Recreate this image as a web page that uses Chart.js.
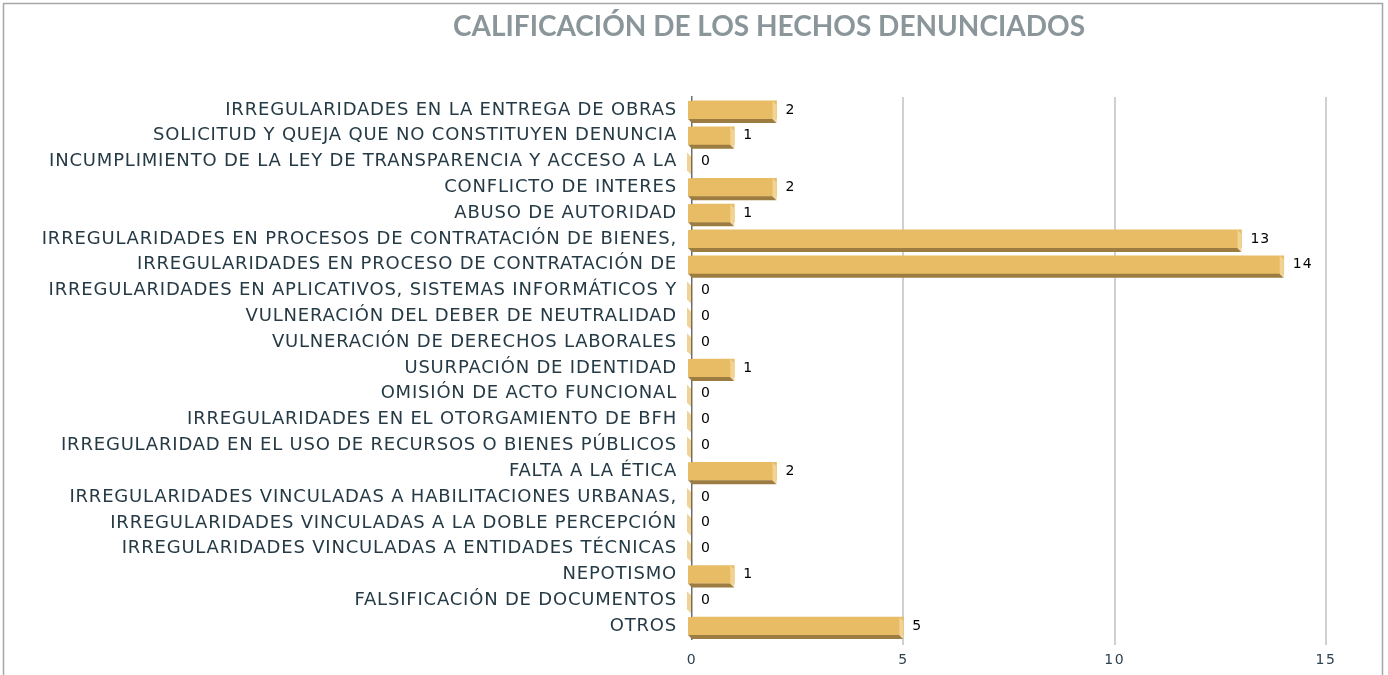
<!DOCTYPE html>
<html>
<head>
<meta charset="utf-8">
<script src="https://cdn.jsdelivr.net/npm/chart.js@4/dist/chart.umd.min.js"></script>
<style>
  html, body { margin: 0; padding: 0; background: #fff; }
  #wrap { width: 1388px; height: 675px; }
</style>
</head>
<body>
<div id="wrap"><canvas id="hechosChart" width="1388" height="675"></canvas></div>
<script>
const titulo = 'CALIFICACIÓN DE LOS HECHOS DENUNCIADOS';

const categorias = [
  'IRREGULARIDADES EN LA ENTREGA DE OBRAS',
  'SOLICITUD Y QUEJA QUE NO CONSTITUYEN DENUNCIA',
  'INCUMPLIMIENTO DE LA LEY DE TRANSPARENCIA Y ACCESO A LA',
  'CONFLICTO DE INTERES',
  'ABUSO DE AUTORIDAD',
  'IRREGULARIDADES EN PROCESOS DE CONTRATACIÓN DE BIENES,',
  'IRREGULARIDADES EN PROCESO DE CONTRATACIÓN DE',
  'IRREGULARIDADES EN APLICATIVOS, SISTEMAS INFORMÁTICOS Y',
  'VULNERACIÓN DEL DEBER DE NEUTRALIDAD',
  'VULNERACIÓN DE DERECHOS LABORALES',
  'USURPACIÓN DE IDENTIDAD',
  'OMISIÓN DE ACTO FUNCIONAL',
  'IRREGULARIDADES EN EL OTORGAMIENTO DE BFH',
  'IRREGULARIDAD EN EL USO DE RECURSOS O BIENES PÚBLICOS',
  'FALTA A LA ÉTICA',
  'IRREGULARIDADES VINCULADAS A HABILITACIONES URBANAS,',
  'IRREGULARIDADES VINCULADAS A LA DOBLE PERCEPCIÓN',
  'IRREGULARIDADES VINCULADAS A ENTIDADES TÉCNICAS',
  'NEPOTISMO',
  'FALSIFICACIÓN DE DOCUMENTOS',
  'OTROS'
];

const cantidades = [2, 1, 0, 2, 1, 13, 14, 0, 0, 0, 1, 0, 0, 0, 2, 0, 0, 0, 1, 0, 5];

const ejeMin = 0;
const ejeMax = 15;
const ejePaso = 5;

// colores de la barra "3D" al estilo Excel
const colorFrente = '#E8BC64';
const colorLado = '#F1D394';
const colorBase = '#9C7C41';

// el texto de Excel sale con algo de espaciado entre letras
const espaciado = {
  id: 'espaciado',
  beforeUpdate(chart) { chart.ctx.letterSpacing = '0.8px'; },
  beforeLayout(chart) { chart.ctx.letterSpacing = '0.8px'; },
  afterLayout(chart) {
    const sx = chart.scales.x;
    if (sx && !sx._espaciado) {
      const orig = sx.drawLabels;
      sx.drawLabels = function (area) {
        const c = this.ctx;
        const prev = c.letterSpacing;
        c.letterSpacing = '1.5px';
        orig.call(this, area);
        c.letterSpacing = prev;
      };
      sx._espaciado = true;
    }
  },
  beforeDraw(chart) { chart.ctx.letterSpacing = '0.8px'; }
};

// titulo y marco del grafico
const marcoPlugin = {
  id: 'marco',
  beforeDraw(chart) {
    const c = chart.ctx;
    c.save();
    c.fillStyle = '#ffffff';
    c.fillRect(0, 0, chart.width, chart.height);
    c.strokeStyle = '#A6A6A6';
    c.lineWidth = 1.5;
    c.strokeRect(3.5, 3.5, 1379, 720);
    c.letterSpacing = '0px';
    c.fillStyle = '#8B969B';
    c.font = 'bold 28px Lato, "Open Sans", sans-serif';
    c.textAlign = 'center';
    c.textBaseline = 'middle';
    c.fillText(titulo, 769, 27);
    c.restore();
  }
};

// efecto 3D + etiquetas de valor
const barras3dPlugin = {
  id: 'barras3d',
  afterDatasetsDraw(chart) {
    const c = chart.ctx;
    const meta = chart.getDatasetMeta(0);
    const d = 4;
    c.save();
    meta.data.forEach((bar, i) => {
      const v = cantidades[i];
      const top = bar.y - bar.height / 2;
      const bot = bar.y + bar.height / 2;
      const base = bar.base;
      const x = bar.x;
      if (v > 0) {
        // prolongacion a la izquierda del eje
        c.fillStyle = colorFrente;
        c.fillRect(base - 5, top, 5, bot - top);
        // cara inferior
        c.fillStyle = colorBase;
        c.beginPath();
        c.moveTo(base - 5, bot);
        c.lineTo(x - d, bot);
        c.lineTo(x, bot + d);
        c.lineTo(base - 1, bot + d);
        c.closePath();
        c.fill();
        // cara lateral
        c.fillStyle = colorLado;
        c.beginPath();
        c.moveTo(x - d, top);
        c.lineTo(x, top + d);
        c.lineTo(x, bot + d);
        c.lineTo(x - d, bot);
        c.closePath();
        c.fill();
      } else {
        c.fillStyle = colorLado;
        c.beginPath();
        c.moveTo(base - 5, top);
        c.lineTo(base - 1, top + d);
        c.lineTo(base - 1, bot + d);
        c.lineTo(base - 5, bot);
        c.closePath();
        c.fill();
      }
      c.letterSpacing = '1px';
      c.fillStyle = '#000000';
      c.font = '14px "DejaVu Sans", Verdana, sans-serif';
      c.textAlign = 'left';
      c.textBaseline = 'middle';
      c.fillText(String(v), x + 9, bar.y);
    });
    c.restore();
  }
};

const ctx = document.getElementById('hechosChart').getContext('2d');

new Chart(ctx, {
  type: 'bar',
  data: {
    labels: categorias,
    datasets: [{
      data: cantidades,
      backgroundColor: colorFrente,
      borderWidth: 0,
      barThickness: 18
    }]
  },
  options: {
    indexAxis: 'y',
    responsive: false,
    animation: false,
    layout: {
      padding: { top: 97, right: 62, bottom: 0, left: 0 }
    },
    plugins: {
      legend: { display: false },
      title: { display: false },
      tooltip: { enabled: false }
    },
    scales: {
      x: {
        min: ejeMin,
        max: ejeMax,
        afterFit: scale => { scale.height = 36; },
        ticks: {
          stepSize: ejePaso,
          padding: 7,
          color: '#2E4350',
          font: { family: '"DejaVu Sans", Verdana, sans-serif', size: 14 }
        },
        grid: {
          color: ctx => ctx.tick && ctx.tick.value === 0 ? 'rgba(0,0,0,0)' : '#D0D0D0',
          lineWidth: 2,
          tickLength: 6
        },
        border: { display: false }
      },
      y: {
        afterFit: scale => { scale.width = 692; },
        ticks: {
          padding: 15,
          color: '#253A45',
          font: { family: '"DejaVu Sans", Verdana, sans-serif', size: 18 },
          autoSkip: false
        },
        grid: { display: false, drawTicks: false },
        border: { display: true, color: '#6E6E6E', width: 1.5 }
      }
    }
  },
  plugins: [espaciado, marcoPlugin, barras3dPlugin]
});
</script>
</body>
</html>
